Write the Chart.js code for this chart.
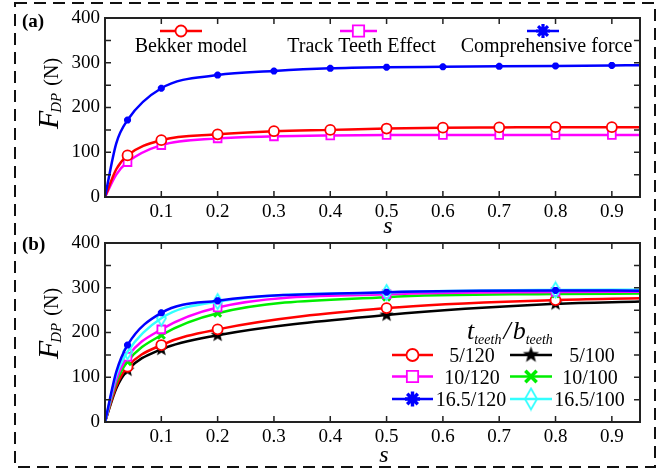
<!DOCTYPE html>
<html>
<head>
<meta charset="utf-8">
<script src="https://cdn.jsdelivr.net/npm/chart.js@4.4.0/dist/chart.umd.min.js"></script>
<style>
  html, body { margin: 0; padding: 0; background: #fff; }
  #wrap { position: relative; width: 661px; height: 471px; overflow: hidden; }
  canvas { position: absolute; left: 0; }
  #chartA { top: 0; }
  #chartB { top: 225px; }
  #frame { top: 0; pointer-events: none; }
</style>
</head>
<body>
<div id="wrap">
  <canvas id="chartA" width="661" height="235"></canvas>
  <canvas id="chartB" width="661" height="246"></canvas>
  <canvas id="frame" width="661" height="471"></canvas>
</div>
<script>
const SERIF = '"Liberation Serif", "Times New Roman", serif';

// axis ticks shared by both panels
const xTickVals = [0.1, 0.2, 0.3, 0.4, 0.5, 0.6, 0.7, 0.8, 0.9];
const yTickVals = [0, 100, 200, 300, 400];
const yMinorVals = [50, 100, 150, 200, 250, 300, 350];

// (a) drawbar pull vs slip, three force models
const slipA = [0, 0.02, 0.04, 0.1, 0.2, 0.3, 0.4, 0.5, 0.6, 0.7, 0.8, 0.9, 0.95];
const markA = [2, 3, 4, 5, 6, 7, 8, 9, 10, 11];
const bekker = [0, 62, 93, 127, 140, 147, 150, 153, 155, 155.5, 156, 156, 156];
const teethEffect = [0, 50, 78, 116, 131, 135.5, 137.5, 138.5, 138.5, 138.5, 138.5, 138.5, 138.5];
const comprehensive = [0, 120, 172, 243, 272.5, 281.5, 287.5, 290, 291, 292, 293, 294, 294.5];

// (b) drawbar pull for different tooth height / width
const slipB = [0, 0.02, 0.04, 0.1, 0.2, 0.5, 0.8, 0.95];
const markB = [2, 3, 4, 5, 6];
const t5b120 = [0, 80, 123.5, 172, 207, 254.5, 272.5, 276.5];
const t5b100 = [0, 75, 116, 162.5, 194, 239, 264, 269];
const t10b120 = [0, 95, 146, 207, 256, 285.5, 290.5, 291];
const t10b100 = [0, 88, 135, 194, 243, 279, 286, 287];
const t16b120 = [0, 112, 172, 244, 271, 290, 294, 293.5];
const t16b100 = [0, 105, 157, 232, 269, 289.5, 295, 295.5];

// filled five-point star used as a point style
function starImage(r, color) {
  const c = document.createElement('canvas');
  c.width = c.height = 2 * r + 2;
  const g = c.getContext('2d');
  g.fillStyle = color;
  g.beginPath();
  for (let i = 0; i < 10; i++) {
    const rad = i % 2 ? r * 0.42 : r;
    const ang = -Math.PI / 2 + i * Math.PI / 5;
    g.lineTo(r + 1 + rad * Math.cos(ang), r + 1 + rad * Math.sin(ang));
  }
  g.closePath();
  g.fill();
  return c;
}

// hollow tall diamond
function diamondImage(hw, hh, color, lw) {
  const c = document.createElement('canvas');
  c.width = 2 * hw + 4;
  c.height = 2 * hh + 4;
  const g = c.getContext('2d');
  const cx = c.width / 2, cy = c.height / 2;
  g.strokeStyle = color;
  g.lineWidth = lw;
  g.beginPath();
  g.moveTo(cx, cy - hh);
  g.lineTo(cx + hw, cy);
  g.lineTo(cx, cy + hh);
  g.lineTo(cx - hw, cy);
  g.closePath();
  g.stroke();
  return c;
}

const CYAN = '#33ffff';

const styles = {
  bekker: { color: '#ff0000', pointStyle: 'circle', r: 5, bw: 1.8, legendR: 5.5 },
  teeth: { color: '#ff00ff', pointStyle: 'rect', r: 5.5, bw: 1.8, legendR: 8 },
  comp: { color: '#0000ff', pointStyle: 'star', r: 3.5, bw: 2.5, legendR: 7, legendBw: 3.2 },
  t5b120: { color: '#ff0000', pointStyle: 'circle', r: 5, bw: 1.8, legendR: 6 },
  t5b100: { color: '#000000', pointStyle: starImage(7.5, '#000'), r: 7, bw: 1, legendStyle: starImage(8.5, '#000') },
  t10b120: { color: '#ff00ff', pointStyle: 'rect', r: 5.5, bw: 1.8, legendR: 8 },
  t10b100: { color: '#00ee00', pointStyle: 'crossRot', r: 5, bw: 3, legendR: 8, legendBw: 3.5 },
  t16b120: { color: '#0000ff', pointStyle: 'star', r: 3.5, bw: 2.5, legendR: 7.5, legendBw: 3.4 },
  t16b100: { color: CYAN, pointStyle: diamondImage(4.5, 7.5, CYAN, 1.8), r: 7, bw: 1.8, legendStyle: diamondImage(6, 10.5, CYAN, 1.8) }
};

function series(xs, ys, marked, st, order) {
  return {
    data: xs.map((x, i) => ({ x: x, y: ys[i] })),
    borderColor: st.color,
    backgroundColor: 'rgba(0,0,0,0)',
    borderWidth: 2.5,
    cubicInterpolationMode: 'monotone',
    pointStyle: st.pointStyle,
    pointRadius: xs.map((_, i) => marked.includes(i) ? st.r : 0),
    pointBorderColor: st.color,
    pointBorderWidth: st.bw,
    pointBackgroundColor: st.pointStyle === 'star' ? st.color : '#fff',
    order: order
  };
}

function drawMarker(ctx, st, x, y) {
  ctx.save();
  ctx.strokeStyle = st.color;
  ctx.fillStyle = st.pointStyle === 'star' ? st.color : '#fff';
  ctx.lineWidth = st.legendBw || st.bw;
  Chart.helpers.drawPoint(ctx, {
    pointStyle: st.legendStyle || st.pointStyle,
    radius: st.legendR || st.r,
    rotation: 0,
    borderWidth: ctx.lineWidth
  }, x, y);
  ctx.restore();
}

function drawLegendItem(ctx, st, x0, x1, y, label, tx, ty) {
  ctx.save();
  ctx.strokeStyle = st.color;
  ctx.lineWidth = 2.5;
  ctx.beginPath();
  ctx.moveTo(x0, y);
  ctx.lineTo(x1, y);
  ctx.stroke();
  ctx.restore();
  drawMarker(ctx, st, (x0 + x1) / 2, y);
  ctx.save();
  ctx.fillStyle = '#000';
  ctx.font = '20px ' + SERIF;
  ctx.textAlign = 'center';
  ctx.textBaseline = 'alphabetic';
  ctx.fillText(label, tx, ty);
  ctx.restore();
}

// F_DP (N), rotated, with baseline at screen x = bx, centred on cy
function drawForceTitle(ctx, bx, cy) {
  ctx.save();
  ctx.translate(bx, cy);
  ctx.rotate(-Math.PI / 2);
  ctx.fillStyle = '#000';
  ctx.textBaseline = 'alphabetic';
  ctx.textAlign = 'left';
  const fF = 'italic 30px ' + SERIF, fS = 'italic 15px ' + SERIF, fN = '20px ' + SERIF;
  ctx.font = fF; const wF = ctx.measureText('F').width;
  ctx.font = fS; const wS = ctx.measureText('DP').width;
  ctx.font = fN; const wN = ctx.measureText(' (N)').width;
  let x = -(wF + wS + wN) / 2;
  ctx.font = fF; ctx.fillText('F', x, 0); x += wF;
  ctx.font = fS; ctx.fillText('DP', x - 2, 3); x += wS;
  ctx.font = fN; ctx.fillText(' (N)', x, 0);
  ctx.restore();
}

function decorPlugin(cfg) {
  return {
    id: 'decor',
    afterDraw(chart) {
      const ctx = chart.ctx, a = chart.chartArea;
      const xs = chart.scales.x, ys = chart.scales.y;
      ctx.save();
      // inward tick marks on all four sides
      ctx.strokeStyle = '#222';
      ctx.lineWidth = 1.5;
      ctx.beginPath();
      xTickVals.forEach(v => {
        const px = xs.getPixelForValue(v);
        ctx.moveTo(px, a.bottom); ctx.lineTo(px, a.bottom - 6);
        ctx.moveTo(px, a.top); ctx.lineTo(px, a.top + 6);
      });
      yMinorVals.forEach(v => {
        const py = ys.getPixelForValue(v);
        ctx.moveTo(a.left, py); ctx.lineTo(a.left + 6, py);
        ctx.moveTo(a.right, py); ctx.lineTo(a.right - 6, py);
      });
      ctx.stroke();
      ctx.lineWidth = 2;
      ctx.strokeRect(a.left, a.top, a.right - a.left, a.bottom - a.top);

      // panel letter
      ctx.fillStyle = '#000';
      ctx.font = 'bold 19px ' + SERIF;
      ctx.textAlign = 'left';
      ctx.textBaseline = 'alphabetic';
      ctx.fillText(cfg.letter, 22, cfg.letterY);

      // slip label
      ctx.font = 'italic 24px ' + SERIF;
      ctx.textAlign = 'center';
      ctx.fillText('s', cfg.sX, cfg.sY);
      ctx.restore();

      drawForceTitle(ctx, 58, (a.top + a.bottom) / 2 + cfg.titleShift);
      cfg.legend(ctx);
    }
  };
}

function baseOptions(xAxisHeight) {
  return {
    responsive: false,
    animation: false,
    layout: { padding: { left: 0, right: 21, top: 18, bottom: 0 } },
    plugins: { legend: { display: false }, tooltip: { enabled: false } },
    scales: {
      x: {
        type: 'linear', min: 0, max: 0.95,
        grid: { display: false, drawTicks: false },
        border: { display: false },
        afterBuildTicks: s => { s.ticks = xTickVals.map(v => ({ value: v })); },
        afterFit: s => { s.height = xAxisHeight; },
        ticks: { padding: 4, color: '#000', font: { family: SERIF, size: 19 }, maxRotation: 0, callback: v => v.toFixed(1) }
      },
      y: {
        min: 0, max: 400,
        grid: { display: false, drawTicks: false },
        border: { display: false },
        afterBuildTicks: s => { s.ticks = yTickVals.map(v => ({ value: v })); },
        afterFit: s => { s.width = 105; },
        ticks: { padding: 5, color: '#000', font: { family: SERIF, size: 19 }, callback: v => String(v) }
      }
    }
  };
}

new Chart(document.getElementById('chartA'), {
  type: 'line',
  data: {
    datasets: [
      series(slipA, bekker, markA, styles.bekker, 1),
      series(slipA, teethEffect, markA, styles.teeth, 2),
      series(slipA, comprehensive, markA, styles.comp, 0)
    ]
  },
  options: baseOptions(38),
  plugins: [decorPlugin({
    letter: '(a)', letterY: 27, sX: 388, sY: 233, titleShift: -14,
    legend(ctx) {
      drawLegendItem(ctx, styles.bekker, 160, 202, 31, 'Bekker model', 191, 52);
      drawLegendItem(ctx, styles.teeth, 340, 377, 31, 'Track Teeth Effect', 361.5, 52);
      drawLegendItem(ctx, styles.comp, 527, 559, 31, 'Comprehensive force', 546.5, 52);
    }
  })]
});

new Chart(document.getElementById('chartB'), {
  type: 'line',
  data: {
    datasets: [
      series(slipB, t5b120, markB, styles.t5b120, 4),
      series(slipB, t5b100, markB, styles.t5b100, 5),
      series(slipB, t10b120, markB, styles.t10b120, 2),
      series(slipB, t10b100, markB, styles.t10b100, 3),
      series(slipB, t16b120, markB, styles.t16b120, 0),
      series(slipB, t16b100, markB, styles.t16b100, 1)
    ]
  },
  options: baseOptions(49),
  plugins: [decorPlugin({
    letter: '(b)', letterY: 25, sX: 384, sY: 237, titleShift: -9,
    legend(ctx) {
      // legend title: t_teeth / b_teeth
      ctx.save();
      ctx.fillStyle = '#000';
      ctx.textBaseline = 'alphabetic';
      ctx.textAlign = 'left';
      let x = 467;
      const main = 'italic 26px ' + SERIF, sub = 'italic 14px ' + SERIF;
      ctx.font = main; ctx.fillText('t', x, 114); x += ctx.measureText('t').width;
      ctx.font = sub; ctx.fillText('teeth', x, 119); x += ctx.measureText('teeth').width + 2;
      ctx.font = main; ctx.fillText('/', x, 114); x += ctx.measureText('/').width + 2;
      ctx.fillText('b', x, 114); x += ctx.measureText('b').width;
      ctx.font = sub; ctx.fillText('teeth', x, 119);
      ctx.restore();

      const rows = [130, 151.5, 174];
      drawLegendItem(ctx, styles.t5b120, 392, 433, rows[0], '5/120', 472, rows[0] + 7);
      drawLegendItem(ctx, styles.t10b120, 392, 433, rows[1], '10/120', 472, rows[1] + 7);
      drawLegendItem(ctx, styles.t16b120, 392, 433, rows[2], '16.5/120', 471, rows[2] + 7);
      drawLegendItem(ctx, styles.t5b100, 510, 552, rows[0], '5/100', 592, rows[0] + 7);
      drawLegendItem(ctx, styles.t10b100, 510, 552, rows[1], '10/100', 590, rows[1] + 7);
      drawLegendItem(ctx, styles.t16b100, 510, 552, rows[2], '16.5/100', 589.5, rows[2] + 7);
    }
  })]
});

// dashed outer frame around both panels
const fctx = document.getElementById('frame').getContext('2d');
fctx.strokeStyle = '#111';
fctx.lineWidth = 2;
fctx.setLineDash([12, 7]);
fctx.strokeRect(15, 3, 640, 464);
</script>
</body>
</html>
